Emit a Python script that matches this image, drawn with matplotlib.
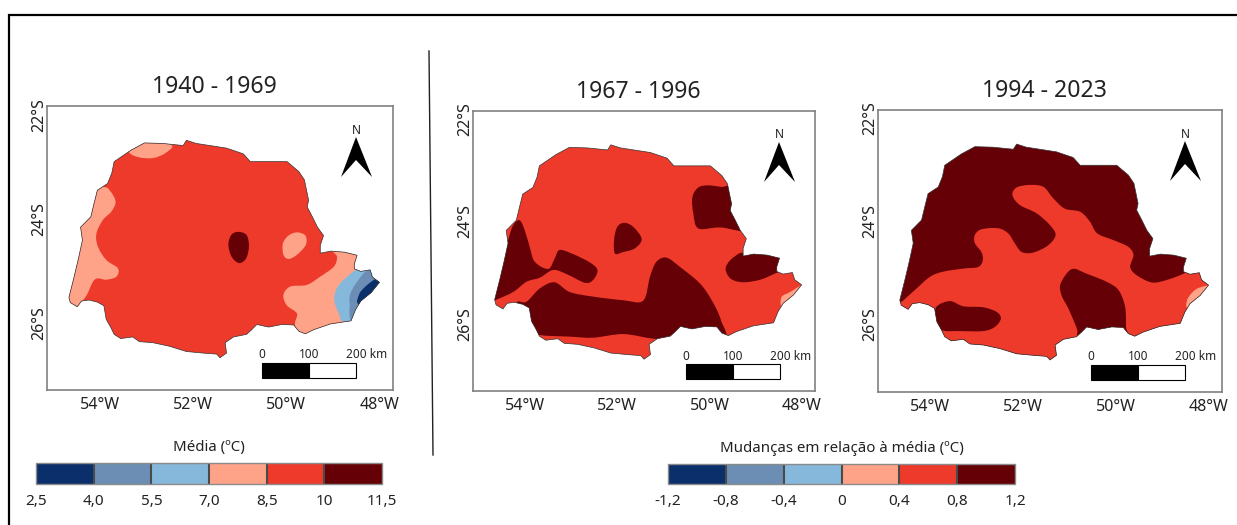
import matplotlib
matplotlib.use("Agg")
import matplotlib.pyplot as plt
from matplotlib.cm import ScalarMappable
from matplotlib.colors import BoundaryNorm, ListedColormap
from matplotlib.lines import Line2D
from matplotlib.patches import PathPatch, Polygon, Rectangle
from matplotlib.path import Path
from matplotlib.transforms import ScaledTranslation

plt.rcParams["font.family"] = ["Noto Sans", "DejaVu Sans"]

W, H = 1237, 525

# classes (same six colours in both legends)
DARK_BLUE = "#0A2F6B"
MID_BLUE = "#6C8EB5"
LIGHT_BLUE = "#85B8DB"
SALMON = "#FFA388"
RED = "#EE3A2B"
DARK_RED = "#650007"
class_colors = [DARK_BLUE, MID_BLUE, LIGHT_BLUE, SALMON, RED, DARK_RED]

mean_bounds = [2.5, 4.0, 5.5, 7.0, 8.5, 10, 11.5]
mean_labels = ["2,5", "4,0", "5,5", "7,0", "8,5", "10", "11,5"]
change_bounds = [-1.2, -0.8, -0.4, 0, 0.4, 0.8, 1.2]
change_labels = ["-1,2", "-0,8", "-0,4", "0", "0,4", "0,8", "1,2"]

lon_ticks = [-54, -52, -50, -48]
lon_labels = ["54°W", "52°W", "50°W", "48°W"]
lat_ticks = [-22, -24, -26]
lat_labels = ["22°S", "24°S", "26°S"]
scale_labels = ["0", "100", "200 km"]

# state outline, lon / lat
outline = [
    (-54.66, -25.47), (-54.63, -25.57), (-54.48, -25.65), (-54.39, -25.54), (-54.23, -25.52), (-54.05, -25.56),
    (-53.91, -25.63), (-53.86, -25.89), (-53.76, -26.05), (-53.69, -26.18), (-53.55, -26.26), (-53.29, -26.23),
    (-53.15, -26.32), (-52.86, -26.34), (-52.50, -26.41), (-52.14, -26.51), (-51.78, -26.54), (-51.49, -26.56),
    (-51.42, -26.63), (-51.28, -26.54), (-51.31, -26.34), (-51.13, -26.23), (-50.85, -26.18), (-50.74, -26.09),
    (-50.63, -25.99), (-50.38, -26.04), (-50.09, -25.99), (-49.84, -26.00), (-49.73, -26.12), (-49.59, -26.17),
    (-49.41, -26.09), (-49.05, -25.98), (-48.61, -25.92), (-48.51, -25.70), (-48.40, -25.54), (-48.18, -25.38),
    (-48.00, -25.18), (-48.15, -25.08), (-48.20, -24.94), (-48.40, -24.97), (-48.54, -24.92), (-48.54, -24.83),
    (-48.48, -24.66), (-48.75, -24.60), (-49.04, -24.58), (-49.27, -24.62), (-49.27, -24.47), (-49.20, -24.28),
    (-49.33, -24.12), (-49.44, -23.92), (-49.55, -23.73), (-49.52, -23.60), (-49.55, -23.47), (-49.58, -23.34),
    (-49.61, -23.21), (-49.73, -23.05), (-49.98, -22.86), (-50.27, -22.86), (-50.77, -22.86), (-50.92, -22.71),
    (-51.28, -22.60), (-51.64, -22.55), (-51.93, -22.51), (-52.14, -22.45), (-52.21, -22.55), (-52.65, -22.51),
    (-53.04, -22.50), (-53.33, -22.64), (-53.69, -22.86), (-53.74, -23.08), (-53.83, -23.28), (-54.05, -23.41),
    (-54.12, -23.66), (-54.19, -23.92), (-54.41, -24.12), (-54.37, -24.37), (-54.45, -24.70), (-54.55, -25.08),
]

# 1940 - 1969
p1_north = [(-53.35, -22.70), (-53.14, -22.78), (-52.85, -22.79), (-52.60, -22.70), (-52.46, -22.54),
            (-53.00, -22.38), (-53.39, -22.54)]
p1_west = [(-53.96, -23.34), (-53.78, -23.42), (-53.66, -23.63), (-53.75, -23.82), (-53.93, -23.98),
           (-54.07, -24.24), (-54.04, -24.49), (-53.86, -24.75), (-53.61, -24.91), (-53.64, -25.07),
           (-53.86, -25.13), (-54.11, -25.13), (-54.36, -25.52), (-54.86, -25.71), (-54.86, -23.28)]
p1_spot = [(-51.03, -24.21), (-50.85, -24.27), (-50.80, -24.49), (-50.86, -24.72), (-51.01, -24.81),
           (-51.17, -24.69), (-51.24, -24.46), (-51.18, -24.27)]
p1_blob = [(-49.77, -24.22), (-49.59, -24.28), (-49.58, -24.46), (-49.77, -24.65), (-49.95, -24.73),
           (-50.06, -24.65), (-50.07, -24.43), (-49.95, -24.28)]
p1_east = [(-48.91, -24.69), (-48.98, -24.88), (-49.27, -25.07), (-49.56, -25.23), (-49.91, -25.26),
           (-50.06, -25.42), (-49.99, -25.62), (-49.77, -25.78), (-49.81, -26.00), (-49.63, -26.29),
           (-47.76, -26.29), (-47.76, -24.49), (-48.98, -24.49)]
p1_blue1 = [(-48.41, -24.91), (-48.73, -25.10), (-48.91, -25.29), (-48.97, -25.52), (-48.87, -25.78),
            (-48.71, -25.97), (-47.76, -26.22), (-47.76, -24.88)]
p1_blue2 = [(-48.23, -24.94), (-48.48, -25.17), (-48.62, -25.39), (-48.64, -25.58), (-48.55, -25.97),
            (-47.76, -25.97), (-47.76, -24.94)]
p1_blue3 = [(-48.05, -25.10), (-48.30, -25.26), (-48.44, -25.42), (-48.42, -25.62), (-47.76, -25.71),
            (-47.76, -25.07)]

# 1967 - 1996
p2_west = [(-54.12, -23.92), (-54.01, -24.11), (-53.90, -24.44), (-53.79, -24.73), (-53.50, -24.87),
           (-53.36, -24.67), (-53.25, -24.50), (-52.96, -24.58), (-52.60, -24.74), (-52.43, -24.89),
           (-52.52, -25.08), (-52.70, -25.14), (-53.10, -24.97), (-53.39, -24.89), (-53.68, -25.04),
           (-53.97, -25.12), (-54.26, -25.32), (-54.66, -25.48), (-54.77, -25.48), (-54.55, -24.89),
           (-54.37, -24.31), (-54.26, -24.02)]
p2_south = [(-53.36, -25.13), (-53.03, -25.32), (-52.52, -25.41), (-51.87, -25.48), (-51.44, -25.49),
            (-51.29, -25.02), (-51.15, -24.73), (-50.93, -24.65), (-50.64, -24.83), (-50.21, -25.15),
            (-49.95, -25.48), (-49.75, -25.87), (-49.70, -26.26), (-50.79, -26.23), (-51.22, -26.23),
            (-51.87, -26.14), (-52.52, -26.21), (-53.03, -26.19), (-53.68, -26.16), (-54.12, -26.06),
            (-54.19, -25.54), (-53.97, -25.51), (-53.68, -25.25)]
p2_center = [(-51.84, -23.97), (-51.64, -24.06), (-51.47, -24.29), (-51.62, -24.47), (-51.87, -24.54),
             (-52.05, -24.57), (-52.07, -24.31), (-52.00, -24.05)]
p2_northeast = [(-50.24, -23.28), (-50.02, -23.24), (-49.74, -23.27), (-49.41, -23.30), (-49.05, -24.10),
                (-49.77, -24.06), (-50.24, -24.08), (-50.35, -23.79), (-50.37, -23.47)]
p2_east = [(-49.34, -24.56), (-49.55, -24.70), (-49.65, -24.87), (-49.54, -25.06), (-49.27, -25.13),
           (-48.90, -25.08), (-48.58, -24.96), (-48.29, -24.83), (-48.29, -24.50), (-49.20, -24.50),
           (-49.24, -24.57)]
p2_tip = [(-48.00, -25.19), (-48.25, -25.32), (-48.43, -25.41), (-48.45, -25.58), (-48.36, -25.72),
          (-47.74, -25.67), (-47.74, -25.15)]

# 1994 - 2023
p3_red = [(-54.65, -25.52), (-54.34, -25.28), (-54.01, -25.02), (-53.72, -24.92), (-53.29, -24.86),
          (-52.97, -24.83), (-52.87, -24.70), (-52.90, -24.54), (-53.04, -24.37), (-53.04, -24.21),
          (-52.90, -24.10), (-52.54, -24.08), (-52.32, -24.18), (-52.18, -24.37), (-52.03, -24.54),
          (-51.78, -24.55), (-51.46, -24.41), (-51.30, -24.21), (-51.42, -24.02), (-51.71, -23.79),
          (-52.07, -23.63), (-52.23, -23.44), (-52.14, -23.29), (-51.85, -23.24), (-51.56, -23.28),
          (-51.35, -23.50), (-51.10, -23.70), (-50.77, -23.76), (-50.56, -23.95), (-50.40, -24.18),
          (-50.05, -24.31), (-49.73, -24.44), (-49.62, -24.60), (-49.69, -24.83), (-49.55, -24.99),
          (-49.22, -25.13), (-48.90, -25.08), (-48.54, -24.96), (-48.32, -24.83), (-47.75, -24.89),
          (-47.75, -26.70), (-54.81, -26.70), (-54.81, -25.54)]
p3_center = [(-50.95, -24.87), (-50.63, -24.96), (-50.19, -25.12), (-49.94, -25.28), (-49.80, -25.60),
             (-49.78, -25.99), (-49.78, -26.25), (-50.74, -26.25), (-50.84, -26.02), (-51.02, -25.64),
             (-51.17, -25.38), (-51.19, -25.15)]
p3_southwest = [(-53.58, -25.49), (-53.29, -25.59), (-52.86, -25.61), (-52.57, -25.70), (-52.48, -25.83),
                (-52.61, -25.99), (-52.86, -26.07), (-53.36, -26.07), (-53.76, -26.05), (-53.88, -25.83),
                (-53.87, -25.60)]
p3_tip = [(-47.98, -25.18), (-48.25, -25.25), (-48.43, -25.41), (-48.48, -25.57), (-48.39, -25.63),
          (-47.75, -25.63), (-47.75, -25.15)]

fig = plt.figure(figsize=(W / 100, H / 100), dpi=100, facecolor="white")


def px_rect(x0, y0, x1, y1):
    # pixel box (y from the top) to figure fractions
    return [x0 / W, 1 - y1 / H, (x1 - x0) / W, (y1 - y0) / H]


def smooth_path(pts):
    # closed bezier through the read points, the zones have round edges
    n = len(pts)
    verts = [pts[0]]
    codes = [Path.MOVETO]
    for i in range(n):
        p0, p1, p2, p3 = pts[i - 1], pts[i], pts[(i + 1) % n], pts[(i + 2) % n]
        c1 = (p1[0] + (p2[0] - p0[0]) / 6, p1[1] + (p2[1] - p0[1]) / 6)
        c2 = (p2[0] - (p3[0] - p1[0]) / 6, p2[1] - (p3[1] - p1[1]) / 6)
        verts += [c1, c2, p2]
        codes += [Path.CURVE4, Path.CURVE4, Path.CURVE4]
    return Path(verts, codes)


def draw_map(box, title, title_xy, base, zones, scale_x, arrow_x, lat_shift=0):
    x0, y0, x1, y1 = box
    ax = fig.add_axes(px_rect(x0, y0, x1, y1))
    ax.set_xlim(-55.13, -47.71)
    ax.set_ylim(-27.25, -21.79)
    state = Polygon(outline, closed=True, facecolor=base, edgecolor="none", zorder=2)
    ax.add_patch(state)
    for pts, color in zones:
        zone = PathPatch(smooth_path(pts), facecolor=color, edgecolor="none", zorder=3)
        ax.add_patch(zone)
        zone.set_clip_path(state)
    ax.add_patch(Polygon(outline, closed=True, facecolor="none", edgecolor="#333333", linewidth=0.5, zorder=4))

    ax.set_xticks(lon_ticks)
    ax.set_xticklabels(lon_labels, fontsize=11.5, color="#222222")
    ax.set_yticks(lat_ticks)
    ax.set_yticklabels(lat_labels, fontsize=11.5, color="#222222", rotation=90, va="center")
    ax.tick_params(axis="x", length=0, pad=5)
    ax.tick_params(axis="y", length=0, pad=0)
    for lab in ax.get_yticklabels():
        lab.set_transform(lab.get_transform() + ScaledTranslation(0, lat_shift / 100, fig.dpi_scale_trans))
    for s in ax.spines.values():
        s.set_color("#808080")
        s.set_linewidth(1.2)

    fig.text(title_xy[0] / W, 1 - title_xy[1] / H, title, fontsize=16.6, color="#222222", ha="center", va="center")

    # scale bar
    sy0, sy1 = y1 - 27, y1 - 12
    sx0, sx1, sx2 = scale_x, scale_x + 47, scale_x + 94
    fig.add_artist(Rectangle((sx0 / W, 1 - sy1 / H), (sx1 - sx0) / W, (sy1 - sy0) / H, transform=fig.transFigure,
                             facecolor="black", edgecolor="black", linewidth=0.8))
    fig.add_artist(Rectangle((sx1 / W, 1 - sy1 / H), (sx2 - sx1) / W, (sy1 - sy0) / H, transform=fig.transFigure,
                             facecolor="white", edgecolor="black", linewidth=0.8))
    for x, lab in zip([sx0, sx1, sx2 + 11], scale_labels):
        fig.text(x / W, 1 - (sy0 - 8) / H, lab, fontsize=8.5, color="#222222", ha="center", va="center")

    # north arrow
    fig.text(arrow_x / W, 1 - (y0 + 24) / H, "N", fontsize=8.5, color="#222222", ha="center", va="center")
    arrow = [(arrow_x, y0 + 31), (arrow_x + 16, y0 + 71), (arrow_x, y0 + 54), (arrow_x - 15, y0 + 71)]
    fig.add_artist(Polygon([(x / W, 1 - y / H) for x, y in arrow], closed=True, transform=fig.transFigure,
                           facecolor="black", edgecolor="none"))
    return ax


def draw_legend(box, bounds, labels, title, title_x):
    x0, y0, x1, y1 = box
    cax = fig.add_axes(px_rect(x0, y0, x1, y1))
    cmap = ListedColormap(class_colors)
    norm = BoundaryNorm(bounds, cmap.N)
    cb = fig.colorbar(ScalarMappable(norm=norm, cmap=cmap), cax=cax, orientation="horizontal",
                      ticks=bounds, spacing="uniform", drawedges=True)
    cb.ax.set_xticklabels(labels, fontsize=11, color="#222222")
    cb.ax.tick_params(length=0, pad=7)
    cb.dividers.set_color("#4a4a4a")
    cb.dividers.set_linewidth(1.5)
    cb.outline.set_edgecolor("#8a8a8a")
    cb.outline.set_linewidth(1)
    fig.text(title_x / W, 1 - (y0 - 15) / H, title, fontsize=10.8, color="#222222", ha="center", va="center")


draw_map((47, 106, 393, 390), "1940 - 1969", (214, 87), RED,
         [(p1_north, SALMON), (p1_west, SALMON), (p1_spot, DARK_RED), (p1_blob, SALMON), (p1_east, SALMON),
          (p1_blue1, LIGHT_BLUE), (p1_blue2, MID_BLUE), (p1_blue3, DARK_BLUE)], 262, 356, lat_shift=1.5)
draw_map((473, 111, 815, 391), "1967 - 1996", (638, 92), RED,
         [(p2_west, DARK_RED), (p2_south, DARK_RED), (p2_center, DARK_RED), (p2_northeast, DARK_RED),
          (p2_east, DARK_RED), (p2_tip, SALMON)], 686, 779, lat_shift=3)
draw_map((878, 110, 1222, 392), "1994 - 2023", (1044, 91), DARK_RED,
         [(p3_red, RED), (p3_center, DARK_RED), (p3_southwest, DARK_RED), (p3_tip, SALMON)], 1091, 1185, lat_shift=3)

draw_legend((36, 463, 382, 484), mean_bounds, mean_labels, "Média (ºC)", 209)
draw_legend((668, 464, 1015, 484), change_bounds, change_labels, "Mudanças em relação à média (ºC)", 842)

# moldura e divisor
fig.add_artist(Line2D([9 / W, 9 / W, 1], [0, 1 - 15 / H, 1 - 15 / H], transform=fig.transFigure,
                      color="black", linewidth=1.6, solid_joinstyle="miter"))
fig.add_artist(Line2D([429 / W, 433 / W], [1 - 51 / H, 1 - 455 / H], transform=fig.transFigure,
                      color="#222222", linewidth=1))

fig.savefig("out.png", dpi=100)
